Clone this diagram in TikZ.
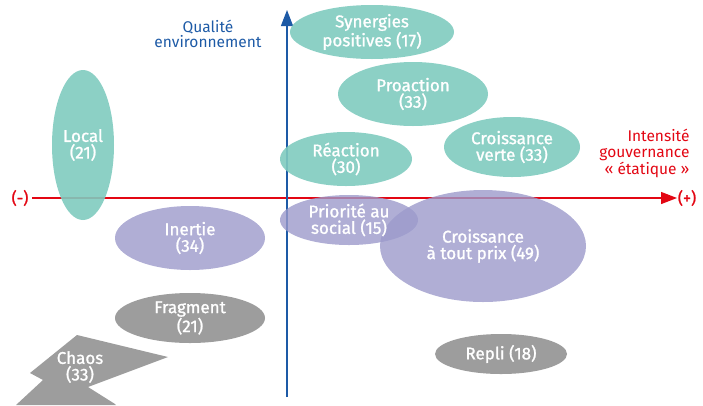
\documentclass[tikz,border=0pt]{standalone}
\usepackage{fontspec}
\setmainfont{Fira Sans}
\newfontfamily\blobfont[FakeBold=1.2]{Fira Sans}
\usetikzlibrary{shapes.geometric,arrows.meta}
\definecolor{tealc}{HTML}{7FCBBF}
\definecolor{purplec}{HTML}{9C9ACB}
\definecolor{greyc}{HTML}{9D9D9D}
\definecolor{redc}{HTML}{E30613}
\definecolor{bluec}{HTML}{1D5AA6}
\tikzset{
  blob/.style={ellipse, inner sep=0pt, text=white, align=center, font=\blobfont\fontsize{17}{16.5}\selectfont},
  tealblob/.style={blob, fill=tealc, fill opacity=0.9, text opacity=1},
  purpleblob/.style={blob, fill=purplec, fill opacity=0.8, text opacity=1},
  greyblob/.style={blob, fill=greyc},
  redlabel/.style={text=redc, font=\fontsize{15.5}{16.5}\selectfont},
  bluelabel/.style={text=bluec, font=\fontsize{15.5}{15}\selectfont},
}
\begin{document}
\begin{tikzpicture}[x=1pt,y=-1pt]
\useasboundingbox (0,0) rectangle (703,405);
% axes
\coordinate (hstart) at (32,198);
\coordinate (hend) at (677,198);
\coordinate (vstart) at (287,397);
\coordinate (vend) at (287,10);
\draw[redc, line width=1.3pt, -{Triangle[length=16pt,width=12pt]}] (hstart) -- (hend);
\draw[bluec, line width=1.3pt, -{Triangle[length=16pt,width=12pt]}] (vstart) -- (vend);
\node[text=redc, font=\blobfont\fontsize{16}{16}\selectfont] (minus) at (20,198) {(-)};
\node[text=redc, font=\blobfont\fontsize{16}{16}\selectfont] (plus) at (687,198) {(+)};
\node[bluelabel, align=center] (qual) at (208,34) {Qualité\\environnement};
\node[redlabel, align=right, anchor=east] (inten) at (693,153) {Intensité\\gouvernance\\« étatique »};
% blobs
\node[tealblob, minimum width=164pt, minimum height=54pt] (syn) at (372,32) {Synergies\\positives (17)};
\node[tealblob, minimum width=150pt, minimum height=64pt] (pro) at (413,94) {Proaction\\(33)};
\node[tealblob, minimum width=136pt, minimum height=60pt] (cv) at (512,147) {Croissance\\verte (33)};
\node[tealblob, minimum width=132pt, minimum height=54pt] (rea) at (346,159) {Réaction\\(30)};
\node[tealblob, minimum width=62pt, minimum height=150pt] (loc) at (83,145) {Local\\(21)};
\node[purpleblob, minimum width=150pt, minimum height=64pt] (ine) at (190,238) {Inertie\\(34)};
\node[purpleblob, minimum width=206pt, minimum height=112pt] (ctp) at (483,246) {Croissance\\à tout prix (49)};
\node[purpleblob, minimum width=138pt, minimum height=50pt] (pri) at (349,220) {Priorité au\\social (15)};
\node[greyblob, minimum width=150pt, minimum height=50pt] (fra) at (190,318) {Fragment\\(21)};
\node[greyblob, minimum width=132pt, minimum height=40pt] (rep) at (501,354) {Repli (18)};
% chaos
\fill[greyc] (77,335) -- (168,357) -- (88,387) -- (115,404) -- (116,405) -- (16,405) -- (43,380) -- (30,373) -- cycle;
\node[text=white, align=center, font=\blobfont\fontsize{17}{16.5}\selectfont] (cha) at (80,367) {Chaos\\(33)};
\end{tikzpicture}
\end{document}
